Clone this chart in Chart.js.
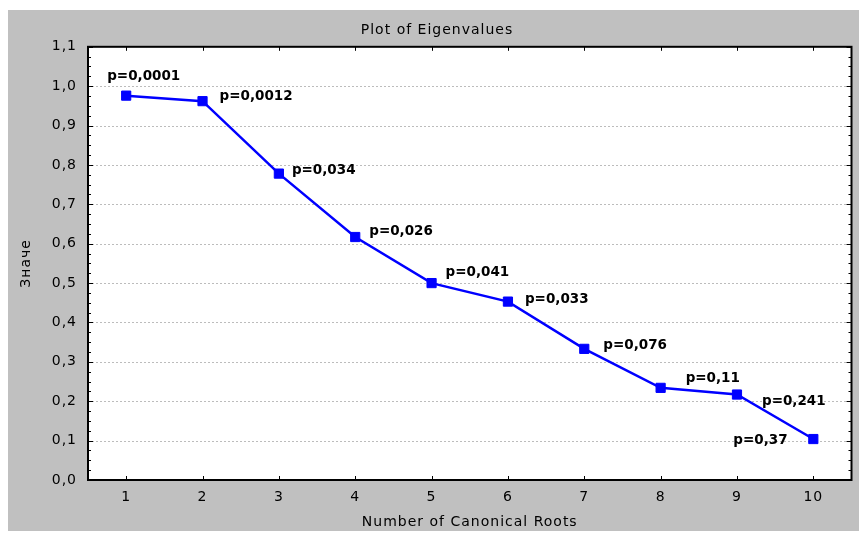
<!DOCTYPE html>
<html>
<head>
<meta charset="utf-8">
<script src="https://cdn.jsdelivr.net/npm/chart.js@4/dist/chart.umd.min.js"></script>
<style>
  html, body { margin: 0; padding: 0; background: #ffffff; }
  #wrap { width: 859px; height: 533px; position: relative; }
</style>
</head>
<body>
<div id="wrap"><canvas id="c"></canvas></div>
<script>
// ---- data ----
const categories = ['1', '2', '3', '4', '5', '6', '7', '8', '9', '10'];
const eigenvalues = [0.976, 0.962, 0.778, 0.617, 0.500, 0.453, 0.333, 0.234, 0.217, 0.104];
const pLabels = ['p=0,0001', 'p=0,0012', 'p=0,034', 'p=0,026', 'p=0,041', 'p=0,033', 'p=0,076', 'p=0,11', 'p=0,241', 'p=0,37'];
const yMin = 0, yMax = 1.1, yStep = 0.1, yMinorStep = 0.025;
const chartTitle = 'Plot of Eigenvalues';
const xTitle = 'Number of Canonical Roots';
const yTitle = 'Значе';

// ---- styles (label offsets relative to each point: [dx, dy to baseline]) ----
const labelOffsets = [[-19, -16], [17, -1], [13, 0], [14, -2], [14, -7], [17, 1], [19, 0], [25, -6], [25, 10], [-80, 5]];

Chart.defaults.font.family = "'DejaVu Sans', 'Liberation Sans', Arial, sans-serif";
Chart.defaults.font.size = 14;
Chart.defaults.color = '#000000';

const decor = {
  id: 'decor',
  beforeUpdate(chart) { chart.ctx.letterSpacing = '1px'; },
  beforeDraw(chart) {
    const ctx = chart.ctx;
    ctx.letterSpacing = '1px';
    ctx.save();
    ctx.fillStyle = '#ffffff';
    ctx.fillRect(0, 0, chart.width, chart.height);
    ctx.fillStyle = '#c0c0c0';
    ctx.fillRect(8, 10, chart.width - 8, chart.height - 12);
    const a = chart.chartArea;
    ctx.fillStyle = '#ffffff';
    ctx.fillRect(a.left, a.top, a.right - a.left, a.bottom - a.top);
    ctx.restore();
  },
  beforeDatasetsDraw(chart) {
    const ctx = chart.ctx;
    const a = chart.chartArea;
    const ys = chart.scales.y, xs = chart.scales.x;
    ctx.save();
    ctx.letterSpacing = '0px';
    // dotted horizontal grid
    ctx.strokeStyle = '#bcbcbc';
    ctx.lineWidth = 1;
    ctx.setLineDash([2, 2]);
    for (let i = 1; i < Math.round((yMax - yMin) / yStep); i++) {
      const py = Math.round(ys.getPixelForValue(yMin + i * yStep)) + 0.5;
      ctx.beginPath();
      ctx.moveTo(a.left, py);
      ctx.lineTo(a.right, py);
      ctx.stroke();
    }
    ctx.setLineDash([]);
    // frame
    ctx.strokeStyle = '#000000';
    ctx.lineWidth = 2;
    ctx.strokeRect(a.left, a.top, a.right - a.left, a.bottom - a.top);
    // y ticks (inward, left & right)
    ctx.lineWidth = 1;
    const nMinor = Math.round((yMax - yMin) / yMinorStep);
    const perMajor = Math.round(yStep / yMinorStep);
    for (let i = 0; i <= nMinor; i++) {
      const py = Math.round(ys.getPixelForValue(yMin + i * yMinorStep)) + 0.5;
      const len = (i % perMajor === 0) ? 5 : 3;
      ctx.beginPath();
      ctx.moveTo(a.left, py); ctx.lineTo(a.left + len, py);
      ctx.moveTo(a.right, py); ctx.lineTo(a.right - len, py);
      ctx.stroke();
    }
    // x ticks (inward, top & bottom)
    for (let i = 0; i < categories.length; i++) {
      const px = Math.round(xs.getPixelForValue(i)) + 0.5;
      ctx.beginPath();
      ctx.moveTo(px, a.bottom); ctx.lineTo(px, a.bottom - 4);
      ctx.moveTo(px, a.top); ctx.lineTo(px, a.top + 4);
      ctx.stroke();
    }
    ctx.restore();
  },
  afterDatasetsDraw(chart) {
    const ctx = chart.ctx;
    const meta = chart.getDatasetMeta(0);
    ctx.save();
    ctx.letterSpacing = '0px';
    ctx.font = "bold 13.5px 'DejaVu Sans', 'Liberation Sans', Arial, sans-serif";
    ctx.fillStyle = '#000000';
    ctx.textAlign = 'left';
    ctx.textBaseline = 'alphabetic';
    meta.data.forEach((pt, i) => {
      const off = labelOffsets[i];
      ctx.fillText(pLabels[i], pt.x + off[0], pt.y + off[1]);
    });
    ctx.restore();
  }
};

new Chart(document.getElementById('c'), {
  type: 'line',
  data: {
    labels: categories,
    datasets: [{
      data: eigenvalues,
      borderColor: '#0000ff',
      backgroundColor: '#0000ff',
      borderWidth: 2.5,
      tension: 0,
      pointStyle: 'rect',
      pointRadius: 6.5,
      pointHoverRadius: 6.5,
      pointBorderWidth: 1,
      pointBorderColor: '#0000ff',
      pointBackgroundColor: '#0000ff',
      clip: false
    }]
  },
  options: {
    responsive: true,
    maintainAspectRatio: false,
    animation: false,
    events: [],
    layout: { padding: { left: 18, top: 10, right: 3, bottom: 2 } },
    plugins: {
      legend: { display: false },
      tooltip: { enabled: false },
      title: {
        display: true,
        text: chartTitle,
        color: '#000000',
        font: { size: 14, weight: 'normal' },
        padding: { top: 12, bottom: 8 }
      }
    },
    scales: {
      x: {
        type: 'category',
        offset: true,
        grid: { display: false, drawTicks: false },
        border: { display: false },
        ticks: { padding: 9, color: '#000000', font: { size: 14 }, maxRotation: 0 },
        title: { display: true, text: xTitle, color: '#000000', font: { size: 14 }, padding: { top: 0, bottom: 0 } },
        afterFit(s) { s.height = 51; }
      },
      y: {
        min: yMin,
        max: yMax,
        grid: { display: false, drawTicks: false },
        border: { display: false },
        ticks: {
          stepSize: yStep,
          padding: 11,
          color: '#000000',
          font: { size: 14 },
          callback: (v) => Number(v).toFixed(1).replace('.', ',')
        },
        title: { display: true, text: yTitle, color: '#000000', font: { size: 14 }, padding: { top: 0, bottom: 0 } },
        afterFit(s) { s.width = 70; }
      }
    }
  },
  plugins: [decor]
});
</script>
</body>
</html>
